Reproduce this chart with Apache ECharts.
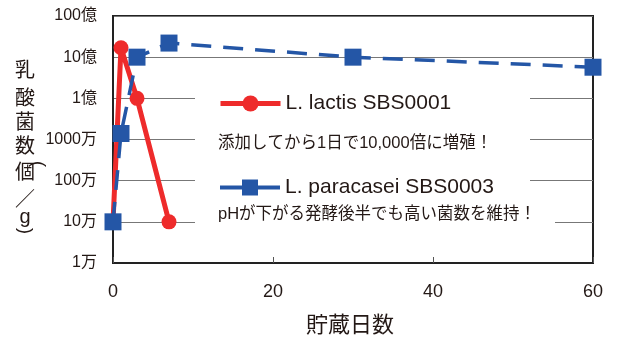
<!DOCTYPE html>
<html><head><meta charset="utf-8">
<script src="https://cdn.jsdelivr.net/npm/echarts@6/dist/echarts.min.js"></script>
<style>html,body{margin:0;padding:0;background:#fff}#c{width:618px;height:338px}</style>
</head><body><div id="c"></div>
<script>
const lactisName = 'L. lactis SBS0001';
const paracaseiName = 'L. paracasei SBS0003';
const lactisDays = [0, 1, 3, 7];
const lactisValues = [1e5, 1.7e9, 1e8, 1e5];
const paracaseiDays = [0, 1, 3, 7, 30, 60];
const paracaseiValues = [1e5, 1.4e7, 1e9, 2.2e9, 1e9, 5.7e8];
const yTickLabels = ['1万', '10万', '100万', '1000万', '1億', '10億', '100億'];
const xTickLabels = ['0', '20', '40', '60'];
const lactisNote = '添加してから1日で10,000倍に増殖！';
const paracaseiNote = 'pHが下がる発酵後半でも高い菌数を維持！';
const yTitleChars = ['乳', '酸', '菌', '数', '個', '／', 'g'];
const xTitle = '貯蔵日数';

const FONT = '"Liberation Sans", "Noto Sans CJK JP", sans-serif';
const RED = '#ee2b2b', BLUE = '#2456a6', TXT = '#231815';

const chart = echarts.init(document.getElementById('c'));
const yTitleY = [71, 99, 123, 147, 173, 200, 217];
const graphics = [
  {type: 'rect', z: 1, shape: {x: 195, y: 75, width: 335, height: 128}, style: {fill: '#fff'}},
  {type: 'rect', z: 1, shape: {x: 195, y: 200, width: 360, height: 30}, style: {fill: '#fff'}},
  {type: 'text', z: 5, left: 218, top: 135, style: {text: lactisNote, font: '16.5px ' + FONT, fill: TXT}},
  {type: 'text', z: 5, left: 218, top: 206, style: {text: paracaseiNote, font: '16.5px ' + FONT, fill: TXT}},
  {type: 'text', z: 5, x: 350, y: 326, style: {text: xTitle, font: '22px ' + FONT, fill: TXT, align: 'center', verticalAlign: 'middle'}},
  {type: 'text', z: 5, x: 38, y: 164, rotation: -Math.PI / 2, style: {text: '(', font: '18px ' + FONT, fill: TXT, align: 'center', verticalAlign: 'middle'}},
  {type: 'text', z: 5, x: 25, y: 231, rotation: -Math.PI / 2, style: {text: ')', font: '18px ' + FONT, fill: TXT, align: 'center', verticalAlign: 'middle'}}
];
yTitleChars.forEach((ch, i) => {
  graphics.push({type: 'text', z: 5, x: 25, y: yTitleY[i], style: {text: ch, font: '20px ' + FONT, fill: TXT, align: 'center', verticalAlign: 'middle'}});
});

const legendCommon = {padding: 0, itemWidth: 60, itemHeight: 20, itemGap: 5, selectedMode: false,
  textStyle: {fontSize: 21, color: TXT, fontFamily: FONT}};

chart.setOption({
  animation: false,
  textStyle: {fontFamily: FONT},
  grid: {left: 113, right: 25, top: 16, bottom: 75, show: true, borderColor: '#222', borderWidth: 2, backgroundColor: 'transparent'},
  legend: [
    Object.assign({data: [{name: lactisName, lineStyle: {width: 5, type: 'solid'}}], left: 218, top: 93}, legendCommon),
    Object.assign({data: [{name: paracaseiName, lineStyle: {width: 4, type: 'solid'}}], left: 218, top: 177}, legendCommon)
  ],
  xAxis: {
    type: 'value', min: 0, max: 60, interval: 20,
    axisLine: {show: true, lineStyle: {color: '#222', width: 2}},
    axisTick: {show: true, inside: true, length: 6, lineStyle: {color: '#555'}},
    axisLabel: {margin: 20, fontSize: 18, color: TXT, fontFamily: FONT,
      formatter: v => xTickLabels[Math.round(v / 20)]},
    splitLine: {show: false}
  },
  yAxis: {
    type: 'log', logBase: 10, min: 1e4, max: 1e10,
    axisLine: {show: true, lineStyle: {color: '#222', width: 2}},
    axisTick: {show: false},
    axisLabel: {margin: 16, fontSize: 16, color: TXT, fontFamily: FONT,
      formatter: v => yTickLabels[Math.round(Math.log10(v)) - 4]},
    splitLine: {show: true, lineStyle: {color: '#777', width: 1}}
  },
  graphic: graphics,
  series: [
    {name: lactisName, type: 'line', data: lactisDays.map((d, i) => [d, lactisValues[i]]),
     symbol: 'circle', symbolSize: 15, z: 3,
     lineStyle: {color: RED, width: 5}, itemStyle: {color: RED}},
    {name: paracaseiName, type: 'line', data: paracaseiDays.map((d, i) => [d, paracaseiValues[i]]),
     symbol: 'rect', symbolSize: 17, z: 4,
     lineStyle: {color: BLUE, width: 3.5, type: [20, 12]}, itemStyle: {color: BLUE}}
  ]
});
</script></body></html>
